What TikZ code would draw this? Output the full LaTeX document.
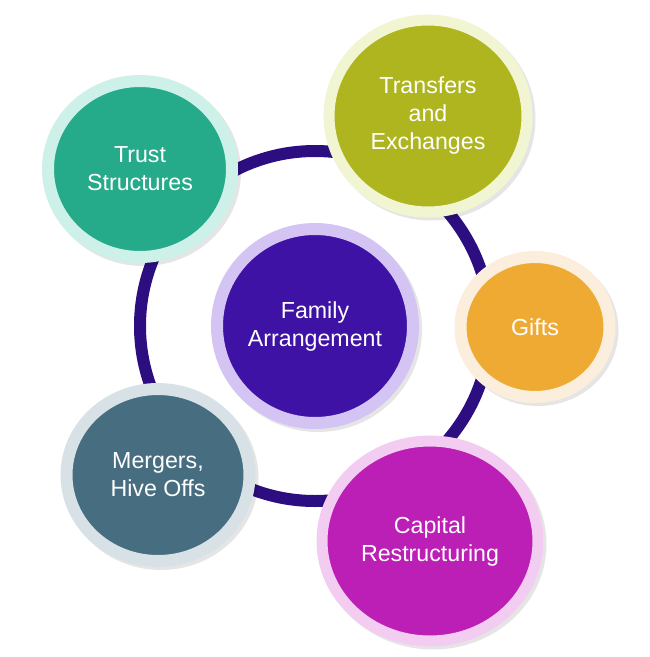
\documentclass[tikz,border=0pt]{standalone}
\usepackage{fontspec}
\setmainfont{Liberation Sans}
\usetikzlibrary{shapes.geometric,backgrounds}
\definecolor{ringcol}{RGB}{45,14,128}
\definecolor{famin}{RGB}{63,18,166}
\definecolor{famout}{RGB}{212,196,244}
\definecolor{trustin}{RGB}{37,171,138}
\definecolor{trustout}{RGB}{205,240,232}
\definecolor{transin}{RGB}{174,181,30}
\definecolor{transout}{RGB}{242,245,210}
\definecolor{giftin}{RGB}{239,170,51}
\definecolor{giftout}{RGB}{251,238,220}
\definecolor{capin}{RGB}{187,31,181}
\definecolor{capout}{RGB}{243,204,241}
\definecolor{mergin}{RGB}{71,109,128}
\definecolor{mergout}{RGB}{216,226,230}
\begin{document}
\begin{tikzpicture}[x=1pt,y=-1pt,
  bubble/.style={ellipse, inner sep=0pt, align=center, text=white,
    font=\fontsize{23.2}{28}\selectfont, line width=12pt,
    preaction={draw=black, fill=black, draw opacity=.1, fill opacity=.1,
      transform canvas={xshift=3pt,yshift=-3pt}}},
  ring/.style={draw=ringcol, line width=12pt}]
\useasboundingbox (0,0) rectangle (650,657);
% centre and the five around it
\node[bubble, fill=famin, draw=famout, minimum width=196pt, minimum height=194pt] (fam) at (315,326) {Family\\Arrangement};
\node[bubble, fill=trustin, draw=trustout, minimum width=184pt, minimum height=176pt] (trust) at (140,169) {Trust\\Structures};
\node[bubble, fill=transin, draw=transout, line width=11pt, minimum width=198pt, minimum height=192pt] (trans) at (428,116) {Transfers\\and\\Exchanges};
\node[bubble, fill=giftin, draw=giftout, minimum width=149pt, minimum height=140pt] (gift) at (535,327) {Gifts};
\node[bubble, fill=mergin, draw=mergout, minimum width=183pt, minimum height=172pt] (merg) at (158,475) {Mergers,\\Hive Offs};
\node[bubble, fill=capin, draw=capout, line width=11pt, minimum width=216pt, minimum height=200pt] (cap) at (430,541) {Capital\\Restructuring};
\begin{scope}[on background layer]
\draw[ring] (fam.center) circle[radius=175];
\end{scope}
\end{tikzpicture}
\end{document}
